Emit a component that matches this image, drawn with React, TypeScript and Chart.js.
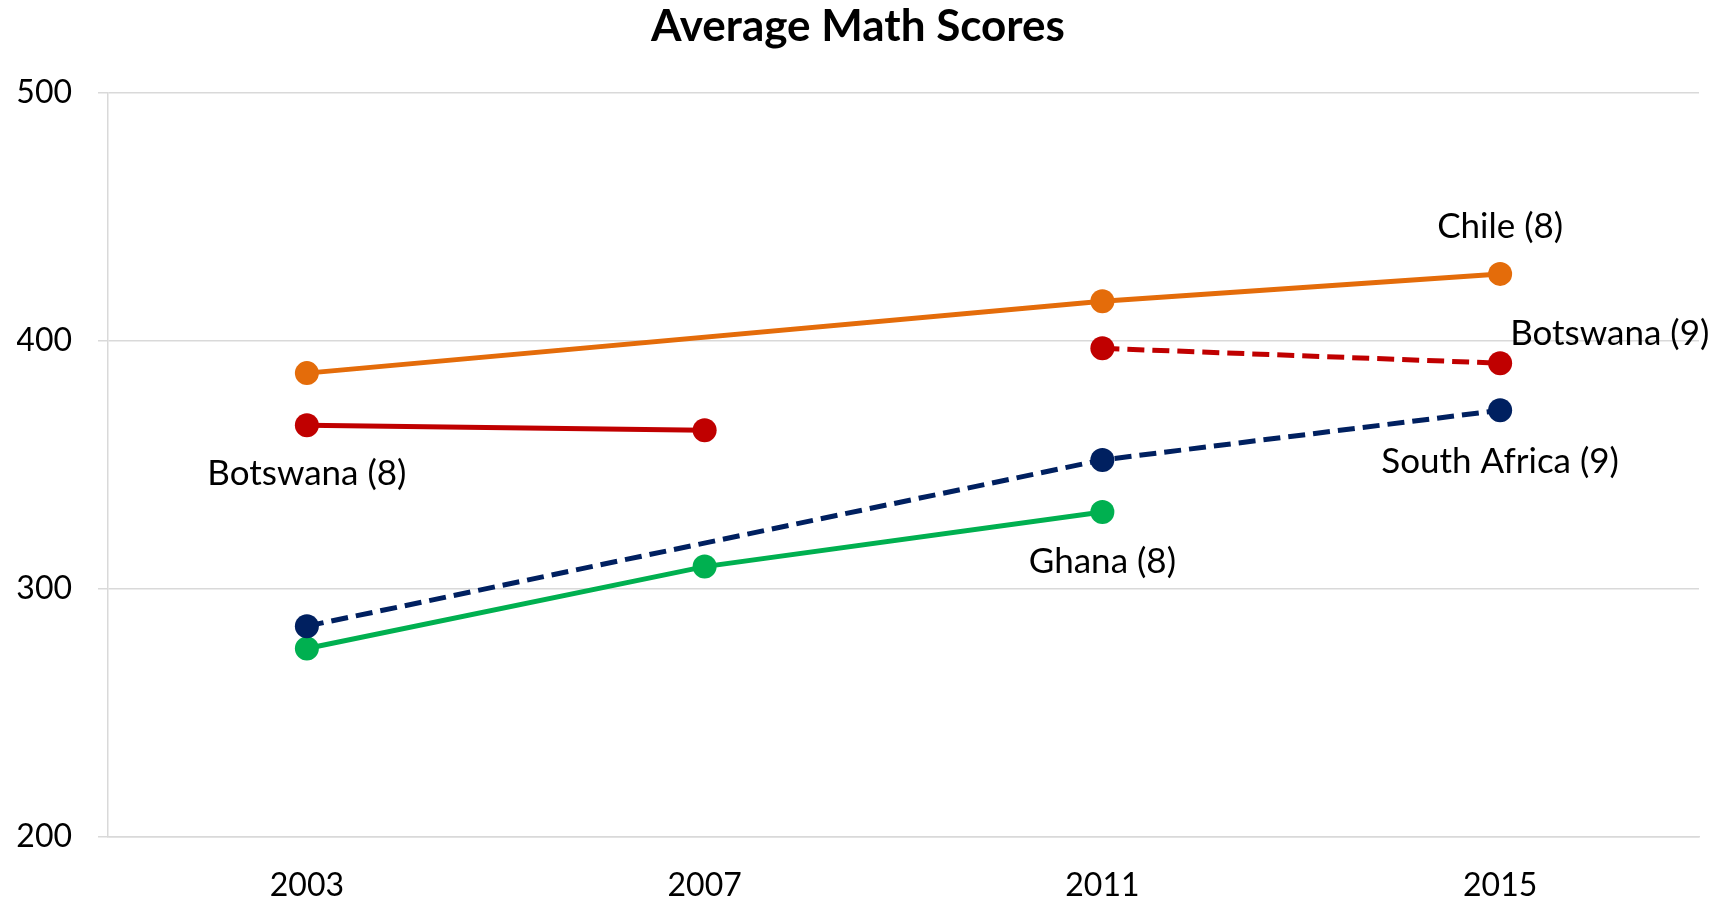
import React, { useEffect, useRef } from "react";
import { Chart, registerables } from "chart.js";

Chart.register(...registerables);

const years = ["2003", "2007", "2011", "2015"];
const chile8 = [387, null, 416, 427];
const botswana8 = [366, 364, null, null];
const botswana9 = [null, null, 397, 391];
const southAfrica9 = [285, null, 352, 372];
const ghana8 = [276, 309, 331, null];
const yTicks = [200, 300, 400, 500];

const seriesNames = ["Chile (8)", "Botswana (8)", "Botswana (9)", "South Africa (9)", "Ghana (8)"];
const seriesColors = ["#E46C0A", "#C00000", "#C00000", "#002060", "#00B050"];

// which point each series label is anchored to
const labelAnchors = [3, 0, 3, 3, 2];

const FONT = "Lato, 'Liberation Sans', sans-serif";

const labelPlugin = {
  id: "seriesLabels",
  afterDatasetsDraw(chart: any) {
    const ctx = chart.ctx;
    const offsets: any[] = [
      { dx: 0, dy: -47, align: "center" },
      { dx: 0, dy: 49, align: "center" },
      { dx: 10, dy: -29, align: "left" },
      { dx: 0, dy: 51, align: "center" },
      { dx: 0, dy: 50, align: "center" },
    ];
    ctx.save();
    ctx.font = `35px ${FONT}`;
    ctx.fillStyle = "#000";
    ctx.textBaseline = "middle";
    chart.data.datasets.forEach((ds: any, i: number) => {
      const meta = chart.getDatasetMeta(i);
      const el = meta.data[labelAnchors[i]];
      if (!el) return;
      const o = offsets[i];
      ctx.textAlign = o.align;
      ctx.fillText(seriesNames[i], el.x + o.dx, el.y + o.dy);
    });
    ctx.restore();
  },
};

export default function App() {
  const ref = useRef<HTMLCanvasElement>(null);
  useEffect(() => {
    const seriesData = [chile8, botswana8, botswana9, southAfrica9, ghana8];
    const dashed = [false, false, true, true, false];
    const chart = new Chart(ref.current as HTMLCanvasElement, {
      type: "line",
      data: {
        labels: years,
        datasets: seriesData.map((d, i) => ({
          label: seriesNames[i],
          data: d as any,
          borderColor: seriesColors[i],
          backgroundColor: seriesColors[i],
          pointBackgroundColor: seriesColors[i],
          pointBorderColor: seriesColors[i],
          pointBorderWidth: 0,
          pointRadius: 12,
          borderWidth: 5,
          borderDash: dashed[i] ? [17, 8] : [],
          spanGaps: true,
          tension: 0,
          fill: false,
        })),
      },
      options: {
        responsive: false,
        animation: false,
        layout: { padding: { left: 17, right: 17, top: 0, bottom: 0 } },
        plugins: {
          legend: { display: false },
          tooltip: { enabled: false },
          title: {
            display: true,
            text: "Average Math Scores",
            color: "#000",
            font: { family: FONT, size: 44, weight: "bold" },
            padding: { top: 0, bottom: 40 },
          },
        },
        scales: {
          x: {
            type: "category",
            offset: true,
            grid: { display: false, drawTicks: false },
            border: { display: true, color: "#D9D9D9", width: 1.5 },
            ticks: { color: "#000", font: { family: FONT, size: 32 }, padding: 29 },
            afterFit: (axis: any) => {
              axis.height = 67;
            },
          },
          y: {
            min: 200,
            max: 500,
            afterBuildTicks: (axis: any) => {
              axis.ticks = yTicks.map((v) => ({ value: v }));
            },
            grid: { color: "#D9D9D9", lineWidth: 1.5, tickLength: 10, drawTicks: true },
            border: { display: true, color: "#D9D9D9", width: 1.5 },
            ticks: { color: "#000", font: { family: FONT, size: 32 }, padding: 26 },
            afterFit: (axis: any) => {
              axis.width = 91;
            },
          },
        },
      },
      plugins: [labelPlugin],
    });
    return () => chart.destroy();
  }, []);
  return (
    <div style={{ position: "fixed", left: 0, top: 0, width: 1716, height: 904, background: "#fff" }}>
      <canvas ref={ref} width={1716} height={904} />
    </div>
  );
}
